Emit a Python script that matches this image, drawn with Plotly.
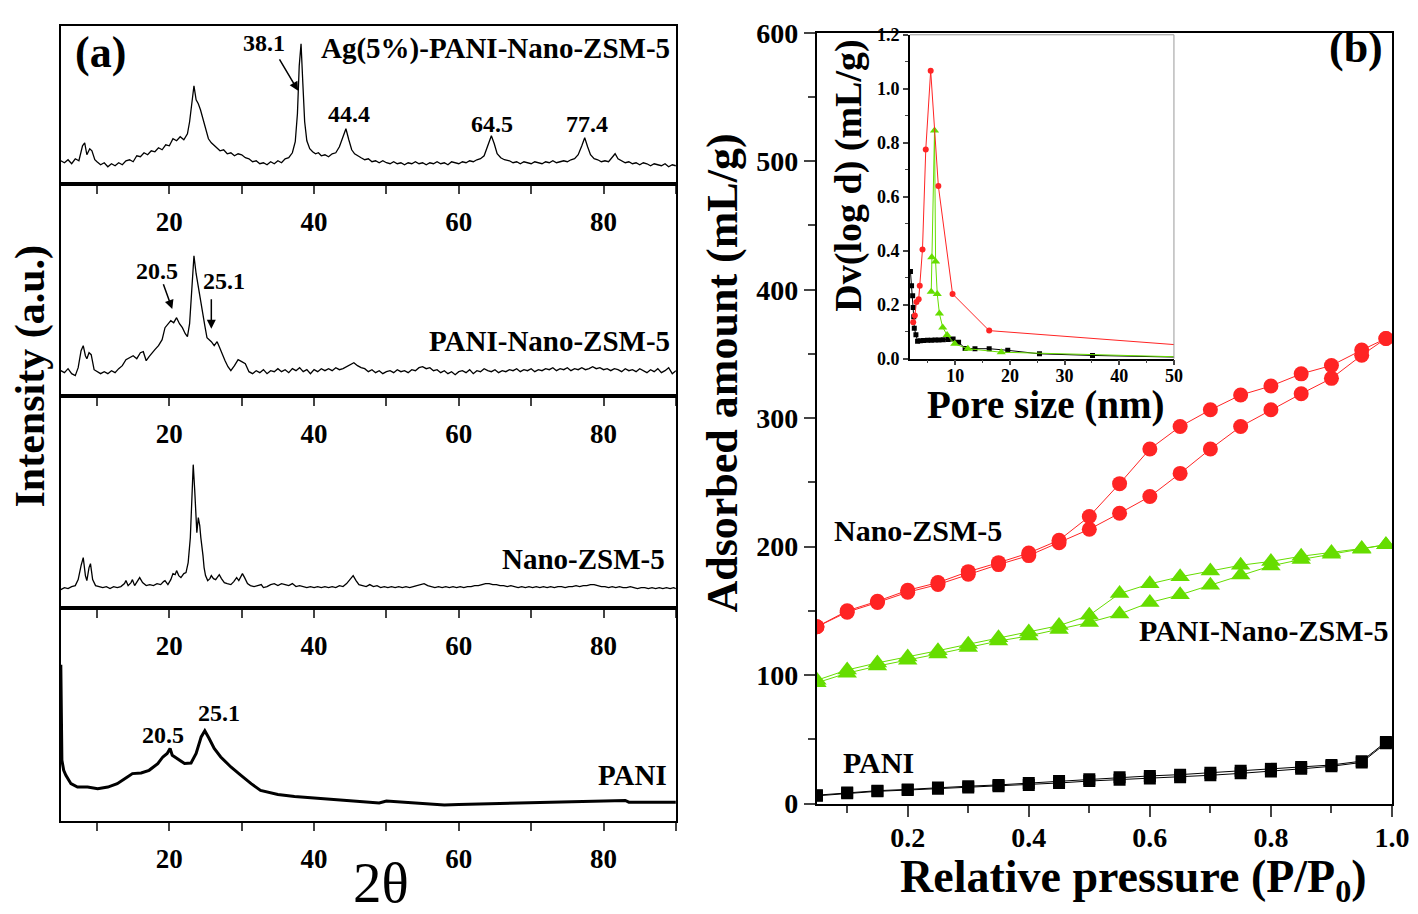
import plotly.graph_objs as go

# ---------------- (a) XRD patterns ----------------
# Ag(5%)-PANI-Nano-ZSM-5
ag_2theta = [5.0, 5.5, 6.0, 6.5, 7.0, 7.5, 8.0, 8.3, 8.6, 9.0, 9.3, 9.7, 10.0, 10.5, 11.0, 11.5, 12.0, 12.5,
             13.0, 13.5, 14.0, 14.5, 15.0, 15.5, 16.0, 16.5, 17.0, 17.5, 18.0, 18.5, 19.0, 19.5, 20.0, 20.5,
             21.0, 21.5, 22.0, 22.5, 22.8, 23.1, 23.4, 23.7, 24.0, 24.3, 24.6, 25.0, 25.4, 25.8, 26.2, 26.6,
             27.0, 27.5, 28.0, 28.5, 29.0, 29.5, 30.0, 30.5, 31.0, 31.5, 32.0, 32.5, 33.0, 33.5, 34.0, 34.5,
             35.0, 35.5, 36.0, 36.5, 37.0, 37.4, 37.7, 37.95, 38.2, 38.45, 38.7, 39.0, 39.4, 39.8, 40.2, 40.6,
             41.0, 41.5, 42.0, 42.5, 43.0, 43.5, 44.0, 44.4, 44.8, 45.2, 45.6, 46.0, 46.5, 47.0, 47.5, 48.0,
             48.5, 49.0, 49.5, 50.0, 50.5, 51.0, 51.5, 52.0, 52.5, 53.0, 53.5, 54.0, 54.5, 55.0, 55.5, 56.0,
             56.5, 57.0, 57.5, 58.0, 58.5, 59.0, 59.5, 60.0, 60.5, 61.0, 61.5, 62.0, 62.5, 63.0, 63.5, 64.0,
             64.5, 64.9, 65.3, 65.8, 66.3, 67.0, 67.5, 68.0, 68.5, 69.0, 69.5, 70.0, 70.5, 71.0, 71.5, 72.0,
             72.5, 73.0, 73.5, 74.0, 74.5, 75.0, 75.5, 76.0, 76.5, 77.0, 77.4, 77.8, 78.2, 78.7, 79.2, 79.7,
             80.2, 80.7, 81.2, 81.6, 82.0, 82.5, 83.0, 83.5, 84.0, 84.5, 85.0, 85.5, 86.0, 86.5, 87.0, 87.5,
             88.0, 88.5, 89.0, 89.5, 90.0]
ag_int = [23, 21, 24, 20, 25, 23, 38, 41, 29, 35, 33, 24, 22, 19, 21, 17, 20, 18,
          21, 19, 23, 24, 22, 28, 27, 31, 29, 33, 32, 36, 34, 39, 38, 45,
          43, 47, 44, 50, 62, 80, 98, 84, 80, 74, 66, 55, 45, 41, 38, 36,
          33, 34, 30, 31, 28, 30, 29, 26, 25, 22, 23, 20, 21, 19, 22, 20,
          23, 21, 25, 26, 31, 42, 70, 118, 140, 100, 62, 43, 35, 32, 30, 31,
          28, 29, 27, 30, 31, 37, 48, 55, 44, 34, 30, 28, 26, 24, 25, 22,
          23, 21, 23, 21, 20, 22, 20, 21, 19, 21, 20, 22, 20, 21, 19, 21,
          20, 22, 20, 21, 19, 22, 21, 20, 22, 21, 23, 22, 24, 25, 28, 38,
          48, 40, 30, 26, 24, 23, 21, 22, 20, 22, 21, 20, 22, 21, 20, 22,
          21, 23, 21, 22, 23, 22, 24, 25, 29, 38, 46, 37, 29, 25, 24, 22,
          23, 22, 27, 30, 25, 23, 21, 22, 20, 21, 19, 21, 20, 18, 20, 19,
          18, 20, 17, 19, 18]

# PANI-Nano-ZSM-5
pz_2theta = [5.0, 5.5, 6.0, 6.5, 7.0, 7.4, 7.8, 8.1, 8.4, 8.6, 8.9, 9.2, 9.6, 10.0, 10.5, 11.0, 11.5, 12.0,
             12.5, 13.0, 13.5, 14.0, 14.5, 15.0, 15.5, 16.0, 16.4, 16.8, 17.2, 17.6, 18.0, 18.5, 19.0, 19.4,
             19.8, 20.2, 20.6, 21.0, 21.4, 21.8, 22.2, 22.5, 22.8, 23.1, 23.4, 23.7, 24.0, 24.3, 24.6, 24.9,
             25.2, 25.5, 25.8, 26.2, 26.6, 26.9, 27.3, 27.7, 28.1, 28.5, 29.0, 29.5, 30.0, 30.5, 31.0, 31.5,
             32.0, 32.5, 33.0, 33.5, 34.0, 34.5, 35.0, 35.5, 36.0, 36.5, 37.0, 37.5, 38.0, 38.5, 39.0, 39.5,
             40.0, 40.5, 41.0, 41.5, 42.0, 42.5, 43.0, 43.5, 44.0, 44.5, 45.0, 45.5, 46.0, 46.5, 47.0, 47.5,
             48.0, 48.5, 49.0, 49.5, 50.0, 50.5, 51.0, 51.5, 52.0, 52.5, 53.0, 53.5, 54.0, 54.5, 55.0, 55.5,
             56.0, 56.5, 57.0, 57.5, 58.0, 58.5, 59.0, 59.5, 60.0, 60.5, 61.0, 61.5, 62.0, 62.5, 63.0, 63.5,
             64.0, 64.5, 65.0, 65.5, 66.0, 66.5, 67.0, 67.5, 68.0, 68.5, 69.0, 69.5, 70.0, 70.5, 71.0, 71.5,
             72.0, 72.5, 73.0, 73.5, 74.0, 74.5, 75.0, 75.5, 76.0, 76.5, 77.0, 77.5, 78.0, 78.5, 79.0, 79.5,
             80.0, 80.5, 81.0, 81.5, 82.0, 82.5, 83.0, 83.5, 84.0, 84.5, 85.0, 85.5, 86.0, 86.5, 87.0, 87.5,
             88.0, 88.5, 89.0, 89.5, 90.0]
pz_int = [25, 23, 27, 22, 20, 28, 45, 50, 40, 37, 43, 41, 26, 24, 22, 24, 22, 25,
          23, 27, 30, 36, 38, 40, 37, 43, 44, 35, 39, 43, 46, 50, 56, 68,
          71, 75, 73, 78, 72, 68, 62, 59, 72, 110, 140, 122, 108, 95, 80, 70,
          58, 56, 54, 50, 54, 49, 41, 35, 29, 25, 30, 36, 34, 32, 24, 22,
          25, 23, 26, 22, 25, 24, 27, 24, 26, 23, 27, 25, 28, 24, 26, 22,
          26, 24, 27, 25, 27, 25, 28, 26, 27, 29, 31, 33, 30, 28, 27, 24,
          26, 23, 25, 22, 24, 25, 23, 26, 24, 25, 23, 26, 25, 28, 29, 27,
          28, 25, 26, 23, 25, 22, 24, 21, 24, 25, 23, 26, 22, 25, 24, 27,
          25, 24, 26, 23, 25, 24, 26, 25, 27, 24, 26, 25, 27, 24, 26, 25,
          27, 26, 28, 25, 27, 26, 28, 25, 27, 26, 28, 26, 27, 29, 27, 28,
          26, 27, 25, 27, 26, 24, 27, 25, 26, 24, 27, 25, 23, 26, 24, 27,
          23, 25, 28, 22, 25]

# Nano-ZSM-5
nz_2theta = [5.0, 5.5, 6.0, 6.5, 7.0, 7.4, 7.8, 8.1, 8.4, 8.6, 8.9, 9.1, 9.4, 9.8, 10.3, 10.8, 11.3, 11.8,
             12.3, 12.8, 13.3, 13.8, 14.0, 14.3, 14.7, 14.9, 15.2, 15.6, 15.9, 16.3, 16.8, 17.3, 17.8, 18.3,
             18.8, 19.2, 19.4, 19.8, 20.2, 20.5, 20.8, 21.0, 21.3, 21.6, 22.0, 22.3, 22.6, 22.9, 23.1, 23.3,
             23.5, 23.7, 23.8, 24.0, 24.2, 24.35, 24.5, 24.65, 24.8, 25.0, 25.3, 25.6, 25.8, 26.1, 26.4, 26.7,
             26.9, 27.2, 27.6, 28.0, 28.5, 28.9, 29.3, 29.6, 29.9, 30.1, 30.4, 30.8, 31.2, 31.7, 32.2, 32.7,
             33.0, 33.5, 34.0, 34.5, 35.0, 35.5, 36.0, 36.5, 37.0, 37.5, 38.0, 38.5, 39.0, 39.5, 40.0, 40.5,
             41.0, 41.5, 42.0, 42.5, 43.0, 43.5, 44.0, 44.5, 45.0, 45.4, 45.8, 46.2, 46.7, 47.2, 47.7, 48.2,
             48.7, 49.2, 49.7, 50.2, 50.7, 51.2, 51.7, 52.2, 52.7, 53.2, 53.7, 54.2, 54.7, 55.2, 55.7, 56.2,
             56.7, 57.2, 57.7, 58.2, 58.7, 59.2, 59.7, 60.2, 60.7, 61.2, 61.7, 62.2, 62.7, 63.2, 63.7, 64.2,
             64.7, 65.2, 65.7, 66.2, 66.7, 67.2, 67.7, 68.2, 68.7, 69.2, 69.7, 70.2, 70.7, 71.2, 71.7, 72.2,
             72.7, 73.2, 73.7, 74.2, 74.7, 75.2, 75.7, 76.2, 76.7, 77.2, 77.7, 78.2, 78.7, 79.2, 79.7, 80.2,
             80.7, 81.2, 81.7, 82.2, 82.7, 83.2, 83.7, 84.2, 84.7, 85.2, 85.7, 86.2, 86.7, 87.2, 87.7, 88.2,
             88.7, 89.2, 89.7, 90.0]
nz_int = [18, 20, 19, 21, 22, 28, 42, 50, 32, 27, 40, 44, 28, 22, 21, 20, 21, 19,
          21, 20, 21, 24, 27, 22, 25, 28, 22, 26, 30, 25, 22, 23, 22, 24,
          23, 26, 27, 23, 28, 34, 33, 37, 32, 30, 34, 35, 45, 70, 100, 143,
          118, 88, 75, 90, 82, 70, 62, 52, 40, 32, 27, 29, 32, 29, 28, 31,
          33, 29, 25, 24, 23, 26, 30, 27, 31, 34, 30, 24, 22, 21, 22, 23,
          20, 21, 23, 24, 22, 24, 23, 22, 24, 21, 22, 21, 20, 21, 20, 21,
          20, 21, 20, 21, 20, 22, 21, 24, 28, 32, 27, 23, 22, 21, 23, 21,
          22, 20, 21, 20, 21, 20, 21, 20, 21, 20, 21, 22, 23, 24, 22, 21,
          20, 21, 20, 21, 20, 21, 20, 21, 20, 21, 21, 22, 22, 23, 24, 24,
          23, 23, 22, 22, 21, 22, 21, 20, 21, 20, 21, 20, 21, 20, 21, 20,
          21, 20, 21, 21, 20, 21, 21, 22, 21, 22, 22, 23, 23, 22, 21, 21,
          20, 21, 20, 21, 20, 20, 21, 20, 19, 20, 20, 19, 20, 19, 20, 19,
          20, 19, 20, 19]

# PANI
pani_2theta = [5.0, 5.15, 5.4, 5.7, 6.4, 7.3, 8.7, 10.1, 11.5, 12.8, 14.2, 14.9, 16.1, 17.2, 18.4, 19.1,
               19.7, 20.1, 20.4, 21.1, 22.1, 23.0, 23.7, 24.4, 24.9, 25.5, 26.2, 27.1, 28.5, 29.9, 31.3,
               32.6, 35.0, 37.3, 39.6, 41.9, 44.2, 46.5, 48.0, 49.0, 50.0, 52.0, 55.0, 58.0, 60.0, 65.0,
               70.0, 75.0, 80.0, 83.0, 83.5, 90.0]
pani_int = [155, 60, 50, 45, 36.7, 33.3, 33.3, 31.7, 33.3, 36.7, 43.3, 46.7, 47.3, 50, 56.7, 63.3,
            66.7, 71.7, 65, 61.7, 56.7, 57.3, 66.7, 83.3, 89.3, 81.7, 71.7, 63.3, 53.3, 45, 36.7,
            30, 26, 24, 22.7, 21.7, 20.7, 19.3, 18.5, 17.5, 19.5, 18.5, 17, 15.5, 16, 17,
            17.7, 18.5, 19.3, 20, 18.3, 18.3]

# ---------------- (b) N2 isotherms ----------------
rel_pressure = [0.05, 0.1, 0.15, 0.2, 0.25, 0.3, 0.35, 0.4, 0.45, 0.5,
                0.55, 0.6, 0.65, 0.7, 0.75, 0.8, 0.85, 0.9, 0.95, 0.99]
nzsm_ads = [137.6, 149, 156.5, 164.5, 170.5, 178.5, 186, 193, 203, 213.5,
            226, 239, 257, 276, 293.5, 306.5, 319, 331, 349, 362]
nzsm_des = [137.6, 150, 157.5, 166, 172, 180.5, 187.5, 195, 205, 223.5,
            249, 276, 293.5, 306.5, 318, 325, 334.5, 341, 353, 362]
pnzsm_ads = [94, 101.5, 107, 111.5, 116.5, 121.5, 126.5, 130.5, 135.5, 141,
             147.5, 156.5, 162.5, 170, 178, 185, 190, 194, 198, 201.5]
pnzsm_des = [96, 104, 109.5, 114, 119, 124, 129, 133.5, 138.5, 146.5,
             163.5, 171, 176.5, 181, 185.5, 188.5, 192.5, 195.5, 198.5, 201.5]
pani_ads = [6, 8, 9.5, 10.5, 11.5, 12.5, 13.5, 14.5, 16, 17.5,
            18.5, 19.5, 20.5, 22, 23.5, 25, 27, 29, 32, 47]
pani_des = [6.5, 8.5, 10, 11, 12.5, 13.5, 14.5, 16, 17.5, 19,
            20.5, 21.5, 22.5, 24, 25.5, 27, 28.5, 30, 33, 48]

# inset: pore size distribution
psd_nzsm_d = [2.3, 2.6, 2.9, 3.3, 3.5, 4.0, 4.6, 5.5, 6.9, 9.5, 16.2, 60]
psd_nzsm_v = [0.135, 0.16, 0.21, 0.22, 0.27, 0.405, 0.775, 1.067, 0.64, 0.24, 0.104, 0.037]
psd_pnzsm_d = [5.6, 5.7, 6.2, 6.4, 6.7, 7.1, 7.7, 8.5, 9.9, 12.3, 18.4, 60]
psd_pnzsm_v = [0.248, 0.376, 0.845, 0.36, 0.24, 0.167, 0.116, 0.088, 0.055, 0.037, 0.024, 0.002]
psd_pani_d = [1.8, 2.0, 2.2, 2.3, 2.4, 2.5, 2.8, 3.1, 3.6, 4.2, 4.9, 5.6, 6.3, 7.0, 7.8, 8.7,
              9.6, 10.6, 11.8, 13.6, 16.2, 19.6, 25.4, 35.1, 60]
psd_pani_v = [0.323, 0.27, 0.233, 0.19, 0.155, 0.113, 0.089, 0.065, 0.066, 0.067, 0.068, 0.068,
              0.069, 0.069, 0.070, 0.071, 0.073, 0.061, 0.038, 0.037, 0.037, 0.031, 0.018, 0.012, 0.002]

FONT = "Liberation Serif"
RED = "#FF2424"
GREEN = "#66DD00"

W, H = 1432, 930
# the photographed page shows the figure shifted and slightly squeezed; undo that
OX, SX, OY, SY = 7.2, 0.988, 22.2, 0.967


def px(x):
    return (x - OX) / SX / W


def py(y):
    return 1 - (y - OY) / SY / H


def fs(s):
    return round(s / 0.975)


fig = go.Figure()

# XRD traces
xrd = [(ag_2theta, ag_int, 1.3), (pz_2theta, pz_int, 1.3), (nz_2theta, nz_int, 1.3), (pani_2theta, pani_int, 3)]
for i, (tt, inten, lw) in enumerate(xrd):
    n = "" if i == 0 else str(i + 1)
    fig.add_trace(go.Scatter(x=tt, y=inten, mode="lines", line=dict(color="black", width=lw),
                             xaxis="x" + n, yaxis="y" + n, showlegend=False))

# isotherms
iso = [(nzsm_ads, nzsm_des, RED, "circle", 15),
       (pnzsm_ads, pnzsm_des, GREEN, "triangle-up", 17),
       (pani_ads, pani_des, "black", "square", 12)]
for ads, des, col, sym, sz in iso:
    for branch in (ads, des):
        fig.add_trace(go.Scatter(x=rel_pressure, y=branch, mode="lines+markers",
                                 line=dict(color=col, width=1),
                                 marker=dict(symbol=sym, size=sz, color=col),
                                 xaxis="x5", yaxis="y5", showlegend=False))

# inset PSD
psd = [(psd_pani_d, psd_pani_v, "black", "square", 5),
       (psd_pnzsm_d, psd_pnzsm_v, GREEN, "triangle-up", 8),
       (psd_nzsm_d, psd_nzsm_v, RED, "circle", 6)]
for d, v, col, sym, sz in psd:
    fig.add_trace(go.Scatter(x=d, y=v, mode="lines+markers", line=dict(color=col, width=1),
                             marker=dict(symbol=sym, size=sz, color=col),
                             xaxis="x6", yaxis="y6", showlegend=False))

# axes
a_dom = [px(60), px(675)]
a_rows = [(25, 183, 158), (183, 395, 212), (395, 607, 212), (607, 820, 212)]
tickfont_a = dict(family=FONT, size=fs(26), color="black", weight="bold")
lay = {}
for i, (top, bot, span) in enumerate(a_rows):
    n = "" if i == 0 else str(i + 1)
    lay["xaxis" + n] = dict(domain=a_dom, range=[5, 90], anchor="y" + n, showline=True, mirror=True,
                            linecolor="black", linewidth=2, ticks="outside", ticklen=8, tickwidth=2,
                            tick0=0, dtick=20, tickfont=tickfont_a, ticklabelstandoff=5,
                            minor=dict(dtick=10, tick0=0, ticks="outside", ticklen=8, tickwidth=2),
                            showgrid=False, zeroline=False)
    lay["yaxis" + n] = dict(domain=[py(bot), py(top)], range=[0, span], anchor="x" + n, showline=True,
                            mirror=True, linecolor="black", linewidth=2, showticklabels=False,
                            ticks="", showgrid=False, zeroline=False)

tickfont_b = dict(family=FONT, size=fs(27), color="black", weight="bold")
lay["xaxis5"] = dict(domain=[px(816), px(1391)], range=[0.05, 1.0], anchor="y5", showline=True, mirror=True,
                     linecolor="black", linewidth=2, ticks="outside", ticklen=11, tickwidth=2,
                     tick0=0, dtick=0.2, tickformat=".1f", tickfont=tickfont_b, ticklabelstandoff=-3,
                     minor=dict(dtick=0.1, tick0=0, ticks="outside", ticklen=7, tickwidth=2),
                     showgrid=False, zeroline=False)
lay["yaxis5"] = dict(domain=[py(803), py(32)], range=[0, 600], anchor="x5", showline=True, mirror=True,
                     linecolor="black", linewidth=2, ticks="outside", ticklen=11, tickwidth=2,
                     dtick=100, tickfont=tickfont_b,
                     minor=dict(dtick=50, ticks="outside", ticklen=7, tickwidth=2),
                     showgrid=False, zeroline=False)

tickfont_c = dict(family=FONT, size=fs(18), color="black", weight="bold")
lay["xaxis6"] = dict(domain=[px(909), px(1173)], range=[1.7, 50], anchor="y6", showline=True,
                     linecolor="black", linewidth=1.5, ticks="outside", ticklen=5, tickwidth=1.5,
                     tick0=0, dtick=10, tickfont=tickfont_c, ticklabelstandoff=-5,
                     minor=dict(dtick=5, tick0=0, ticks="outside", ticklen=3, tickwidth=1),
                     showgrid=False, zeroline=False)
lay["yaxis6"] = dict(domain=[py(358), py(34)], range=[0, 1.2], anchor="x6", showline=True,
                     linecolor="black", linewidth=1.5, ticks="outside", ticklen=5, tickwidth=1.5,
                     dtick=0.2, tickformat=".1f", tickfont=tickfont_c,
                     minor=dict(dtick=0.1, ticks="outside", ticklen=3, tickwidth=1),
                     showgrid=False, zeroline=False)

fig.update_layout(**lay)


def txt(text, x, y, xref, yref, size, xanchor="center", yanchor="middle", angle=0, bold=True):
    return dict(text=text, x=x, y=y, xref=xref, yref=yref, showarrow=False, xanchor=xanchor,
                yanchor=yanchor, textangle=angle,
                font=dict(family=FONT, size=fs(size), color="black", weight="bold" if bold else "normal"))


ann = []
# panel (a) labels
ann.append(txt("(a)", 10.5, 131, "x", "y", 43))
ann.append(txt("38.1", 33.1, 141, "x", "y", 23))
ann.append(txt("44.4", 44.8, 70, "x", "y", 23))
ann.append(txt("64.5", 64.6, 60, "x", "y", 23))
ann.append(txt("77.4", 77.7, 60, "x", "y", 23))
ann.append(txt("Ag(5%)-PANI-Nano-ZSM-5", 89.4, 135, "x", "y", 28, xanchor="right"))
ann.append(txt("20.5", 18.3, 125, "x2", "y2", 23))
ann.append(txt("25.1", 27.6, 115, "x2", "y2", 23))
ann.append(txt("PANI-Nano-ZSM-5", 89.4, 55, "x2", "y2", 28, xanchor="right"))
ann.append(txt("Nano-ZSM-5", 88.8, 49, "x3", "y3", 28, xanchor="right"))
ann.append(txt("20.5", 19.1, 85, "x4", "y4", 23))
ann.append(txt("25.1", 26.8, 107, "x4", "y4", 23))
ann.append(txt("PANI", 89.0, 45, "x4", "y4", 28, xanchor="right"))
# arrows
for x0, y0, x1, y1, xr, yr in [(35.1, 126, 37.8, 93, "x", "y"),
                               (19.1, 113, 20.4, 86.7, "x2", "y2"),
                               (25.8, 98, 25.8, 67, "x2", "y2")]:
    ann.append(dict(x=x1, y=y1, ax=x0, ay=y0, xref=xr, yref=yr, axref=xr, ayref=yr, text="",
                    showarrow=True, arrowhead=2, arrowsize=1.2, arrowwidth=1.5, arrowcolor="black"))

# panel (b) labels
ann.append(txt("(b)", px(1355), py(47), "paper", "paper", 43))
ann.append(txt("Nano-ZSM-5", px(831), py(530), "paper", "paper", 29, xanchor="left"))
ann.append(txt("PANI-Nano-ZSM-5", px(1389), py(630), "paper", "paper", 29, xanchor="right"))
ann.append(txt("PANI", px(840), py(762), "paper", "paper", 29, xanchor="left"))

# axis titles
ann.append(txt("Intensity (a.u.)", px(30), py(375), "paper", "paper", 41, angle=-90))
ann.append(txt("2θ", px(380), py(882), "paper", "paper", 56, bold=False))
ann.append(txt("Adsorbed amount (mL/g)", px(722), py(372), "paper", "paper", 43, angle=-90))
ann.append(txt("Relative pressure (P/P<sub>0</sub>)", px(1133), py(879), "paper", "paper", 45))
ann.append(txt("Dv(log d) (mL/g)", px(848), py(175), "paper", "paper", 37, angle=-90))
ann.append(txt("Pore size (nm)", px(1045), py(404), "paper", "paper", 38))

fig.update_layout(annotations=ann)

# gray top/right frame of inset
fig.add_shape(type="line", xref="x6 domain", yref="y6 domain", x0=0, y0=1, x1=1, y1=1,
              line=dict(color="#999999", width=1))
fig.add_shape(type="line", xref="x6 domain", yref="y6 domain", x0=1, y0=0, x1=1, y1=1,
              line=dict(color="#999999", width=1))

fig.update_layout(width=W, height=H, margin=dict(l=0, r=0, t=0, b=0),
                  plot_bgcolor="white", paper_bgcolor="white", showlegend=False)

fig.write_html("out.html")
